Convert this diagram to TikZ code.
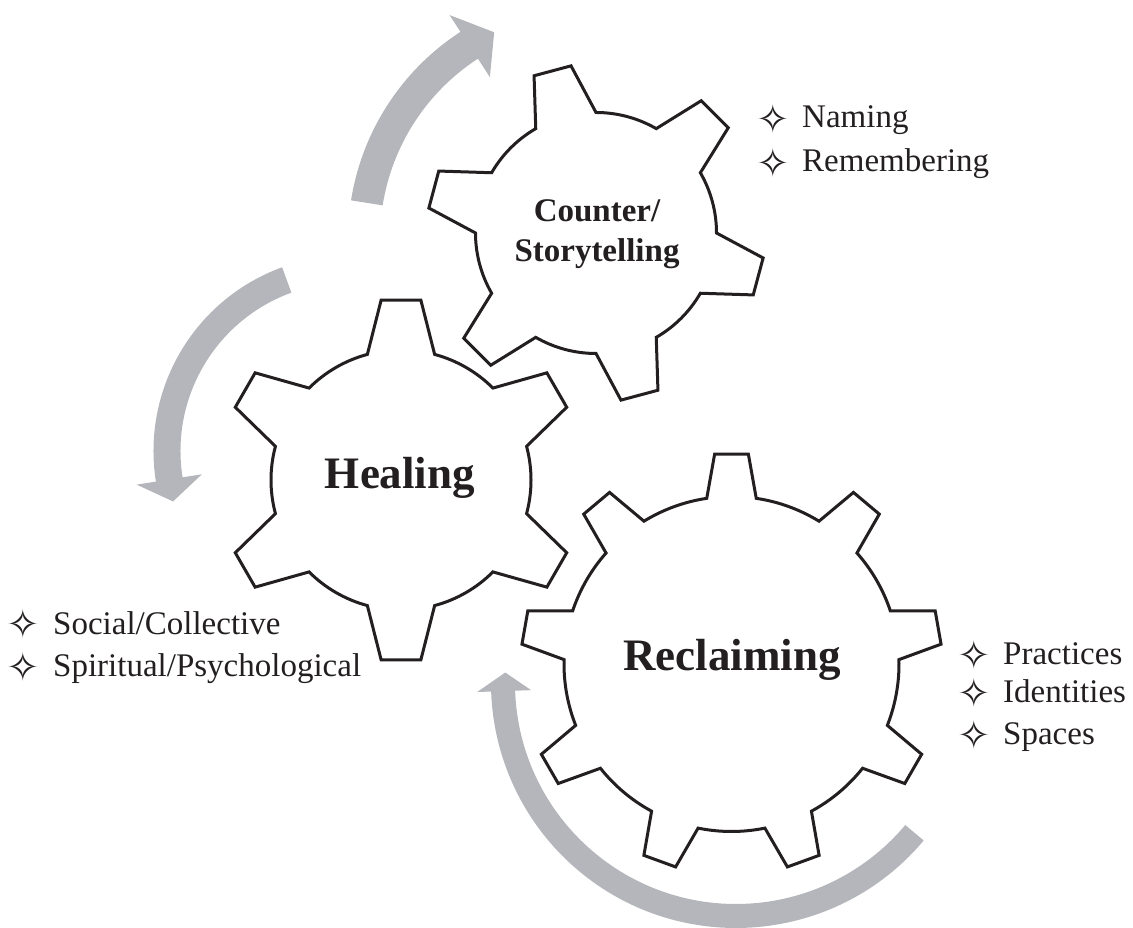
\documentclass[tikz,border=0pt]{standalone}
\usepackage{fontspec}
\setmainfont{Liberation Serif}
\newfontfamily\symfont{DejaVu Sans}
\definecolor{arrowgray}{RGB}{180,182,187}
\definecolor{ink}{RGB}{35,31,32}
% #1,#2 centre; #3 teeth; #4 first tooth angle; #5 outer radius; #6 root radius; #7 half base angle; #8 half tip angle
\newcommand{\gearpath}[8]{%
  \pgfmathsetmacro{\gstep}{360/#3}%
  \path[gearline, shift={(#1,#2)}] ({#4-#7}:#6pt)
  \foreach \k in {1,...,#3}{
    -- ({#4+(\k-1)*\gstep-#8}:#5pt) -- ({#4+(\k-1)*\gstep+#8}:#5pt)
    -- ({#4+(\k-1)*\gstep+#7}:#6pt)
    arc[start angle={#4+(\k-1)*\gstep+#7}, end angle={#4+\k*\gstep-#7}, radius=#6pt]
  } -- cycle;
}
\begin{document}
\begin{tikzpicture}[x=1pt,y=1pt,
  gearline/.style={draw=ink, line width=3pt, fill=white, line join=miter},
  arrowfill/.style={fill=arrowgray},
  biglabel/.style={font=\bfseries\fontsize{45}{54}\selectfont, text=ink, inner sep=0},
  midlabel/.style={font=\bfseries\fontsize{33}{40}\selectfont, text=ink, align=center, inner sep=0},
  itemtext/.style={font=\fontsize{33}{40}\selectfont, text=ink, anchor=base west, inner sep=0},
  starsym/.style={font=\symfont\fontsize{40}{40}\selectfont, text=ink, inner sep=0, anchor=center}
]
\useasboundingbox (0,0) rectangle (1133,928);

% curved arrows
\fill[arrowfill, shift={(595,689)}] (171:247pt) arc[start angle=171, end angle=123, radius=247pt]
  -- (123:267pt) -- (116:230pt) -- (123:193pt) -- (123:215pt)
  arc[start angle=123, end angle=171, radius=215pt] -- cycle;
\fill[arrowfill, shift={(349,477)}] (110:195.5pt) arc[start angle=110, end angle=189, radius=195.5pt]
  -- (189:215pt) -- (196:183pt) -- (189:149pt) -- (189:168.5pt)
  arc[start angle=189, end angle=110, radius=168.5pt] -- cycle;
\fill[arrowfill, shift={(736,245)}] (-40:245pt) arc[start angle=-40, end angle=-178, radius=245pt]
  -- (-178:259pt) -- (-182.6:231pt) -- (-178:205pt) -- (-178:221pt)
  arc[start angle=-178, end angle=-40, radius=221pt] -- cycle;

% gears
\gearpath{596}{695}{6}{105}{169}{120.5}{15}{6.5}
\gearpath{401}{448}{6}{90}{181}{130}{15}{6.3}
\gearpath{731.5}{264}{9}{90}{210.5}{167.5}{8.5}{4.6}

% gear labels
\node[midlabel] (counter) at (597,694) {Counter/\\Storytelling};
\node[biglabel] (healing) at (400,450) {Healing};
\node[biglabel] (reclaiming) at (732,268) {Reclaiming};

% item lists
\node[starsym] (s1) at (773,809) {✧};
\node[itemtext] (t1) at (802,800) {Naming};
\node[starsym] (s2) at (773,765) {✧};
\node[itemtext] (t2) at (802,756) {Remembering};

\node[starsym] (s3) at (23,304) {✧};
\node[itemtext] (t3) at (53,293) {Social/Collective};
\node[starsym] (s4) at (23,261) {✧};
\node[itemtext] (t4) at (53,251) {Spiritual/Psychological};

\node[starsym] (s5) at (974,273) {✧};
\node[itemtext] (t5) at (1003,263) {Practices};
\node[starsym] (s6) at (974,235) {✧};
\node[itemtext] (t6) at (1003,225) {Identities};
\node[starsym] (s7) at (974,193) {✧};
\node[itemtext] (t7) at (1003,183) {Spaces};
\end{tikzpicture}
\end{document}
